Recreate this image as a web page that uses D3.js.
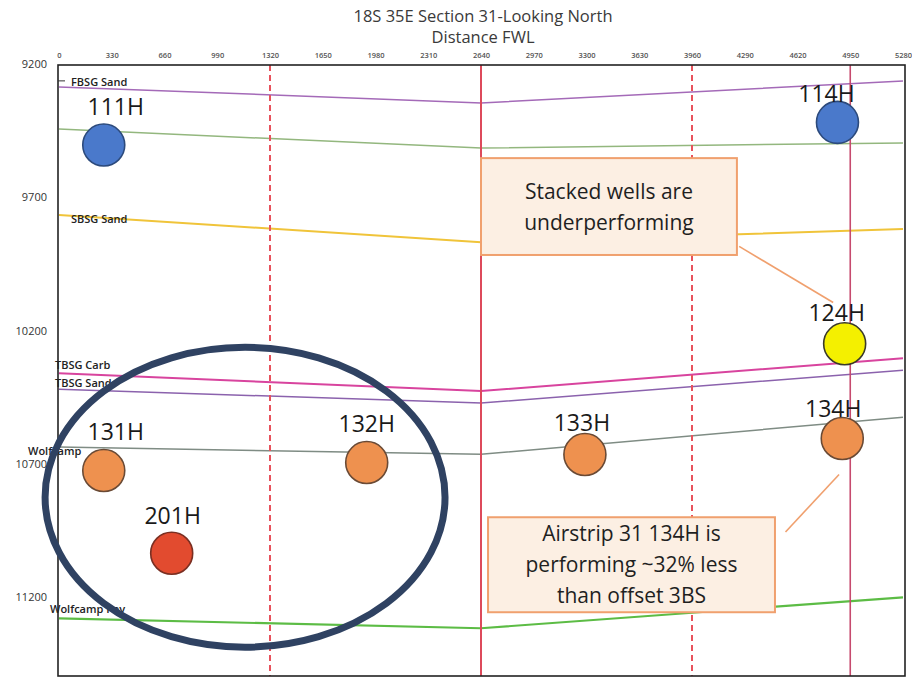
<!DOCTYPE html>
<html>
<head>
<meta charset="utf-8">
<script src="https://cdn.jsdelivr.net/npm/d3@7"></script>
<style>
  html, body { margin: 0; padding: 0; background: #fff; }
  svg { display: block; }
</style>
</head>
<body>
<svg id="chart" width="912" height="683"></svg>
<script>
// ---------------- data ----------------
const titleLines = ["18S 35E Section 31-Looking North", "Distance FWL"];
const xTicks = [0, 330, 660, 990, 1320, 1650, 1980, 2310, 2640, 2970, 3300, 3630, 3960, 4290, 4620, 4950, 5280];
const yTicks = [9200, 9700, 10200, 10700, 11200];

// formation tops: depth at distance stations
const stations = [0, 2640, 5280];
const formationNames = ["FBSG Sand", "", "SBSG Sand", "TBSG Carb", "TBSG Sand", "Wolfcamp", "Wolfcamp Pay"];
const formationDepths = [
  [9282, 9342, 9260],
  [9440, 9511, 9492],
  [9762, 9864, 9815],
  [10355, 10422, 10299],
  [10415, 10467, 10344],
  [10632, 10659, 10520],
  [11274, 11311, 11195]
];

// section / half-section lines
const vLineX = [1320, 2640, 3960, 4950];
const vLineDashed = [true, false, true, false];

// wells
const wellNames = ["111H", "114H", "124H", "131H", "132H", "133H", "134H", "201H"];
const wellX = [280, 4870, 4915, 280, 1925, 3290, 4900, 705];
const wellDepth = [9500, 9415, 10245, 10720, 10690, 10660, 10600, 11030];
const wellGroup = ["FBSG", "FBSG", "SBSG", "TBSG", "TBSG", "TBSG", "TBSG", "WC"];

// annotations (in data units)
const ellipseCenter = [1164, 10820];
const ellipseRadii = [1251, 562];
const callouts = [
  { lines: ["Stacked wells are", "underperforming"], x0: 2640, x1: 4241, d0: 9549, d1: 9912, from: [4255, 9880], to: [4843, 10090] },
  { lines: ["Airstrip 31 134H is", "performing ~32% less", "than offset 3BS"], x0: 2684, x1: 4479, d0: 10895, d1: 11251, from: [4545, 10950], to: [4880, 10735] }
];

// ---------------- styles / layout ----------------
const formationColors = ["#a46ab8", "#93b77e", "#f0c43a", "#d8449e", "#8b62ad", "#7f8c84", "#5cbc45"];
const formationWidths = [1.5, 1.5, 2, 2, 1.5, 1.5, 2.2];
const formationLabelPos = [[71, -5], null, [71, 4], [55, -8], [55, -6], [28, 4], [50, -9]];
const groupFill = { FBSG: "#4a79cb", SBSG: "#f4f000", TBSG: "#ee914f", WC: "#e24b2f" };
const groupStroke = { FBSG: "#2c4a7c", SBSG: "#3a3a2a", TBSG: "#6a4a35", WC: "#7a2f22" };
const labelNudge = [[12, -38], [-11, -29], [-8, -31], [12, -39], [0, -39], [-3, -32], [-9, -30], [1, -38]];

const svg = d3.select("#chart");
const pLeft = 58, pRight = 905, pTop = 65, pBottom = 676;

const x = d3.scaleLinear().domain([0, 5280]).range([pLeft + 1, pRight - 2]);
const y = d3.scaleLinear().domain([9200, 11490]).range([pTop, pBottom]);

const font = "'Open Sans', 'Liberation Sans', sans-serif";

// title
svg.selectAll("text.title").data(titleLines).join("text")
  .attr("class", "title")
  .attr("x", 483).attr("y", (d, i) => 22 + i * 21)
  .attr("text-anchor", "middle")
  .attr("font-family", font).attr("font-size", 16.5).attr("fill", "#3a3a3a")
  .text(d => d);

// top axis
const gx = svg.append("g").attr("transform", `translate(0,${pTop})`)
  .call(d3.axisTop(x).tickValues(xTicks).tickSize(0).tickPadding(7).tickFormat(d3.format("d")));
gx.select(".domain").remove();
gx.selectAll("text").attr("font-family", font).attr("font-size", 7.5).attr("font-weight", 600).attr("fill", "#555");

// left axis
const gy = svg.append("g").attr("transform", `translate(${pLeft},0)`)
  .call(d3.axisLeft(y).tickValues(yTicks).tickSize(0).tickPadding(11).tickFormat(d3.format("d")));
gy.select(".domain").remove();
gy.selectAll("text").attr("font-family", font).attr("font-size", 11).attr("fill", "#333").attr("dy", "0.2em");

// formation lines
const line = d3.line().x(d => x(d[0])).y(d => y(d[1]));
formationDepths.forEach((depths, i) => {
  svg.append("path")
    .attr("d", line(stations.map((s, j) => [s, depths[j]])))
    .attr("fill", "none")
    .attr("stroke", formationColors[i])
    .attr("stroke-width", formationWidths[i]);
});

// vertical lines
svg.selectAll("line.v").data(vLineX).join("line")
  .attr("class", "v")
  .attr("x1", d => x(d)).attr("x2", d => x(d))
  .attr("y1", pTop).attr("y2", pBottom)
  .attr("stroke", (d, i) => vLineDashed[i] ? "#e8525c" : (i === 3 ? "#c64a6e" : "#dd4a5b"))
  .attr("stroke-width", (d, i) => vLineDashed[i] ? 2 : (i === 3 ? 1.6 : 2))
  .attr("stroke-dasharray", (d, i) => vLineDashed[i] ? "6,4" : null);

// plot border
svg.append("rect")
  .attr("x", pLeft).attr("y", pTop)
  .attr("width", pRight - pLeft).attr("height", pBottom - pTop)
  .attr("fill", "none").attr("stroke", "#222").attr("stroke-width", 1.6);

// formation labels
formationNames.forEach((name, i) => {
  if (!name) return;
  const p = formationLabelPos[i];
  const y0 = y(formationDepths[i][0]);
  svg.append("text")
    .attr("x", p[0]).attr("y", y0 + p[1])
    .attr("dy", "0.35em")
    .attr("font-family", font).attr("font-size", 11).attr("font-weight", 600)
    .attr("fill", "#222")
    .text(name);
});
svg.append("line").attr("x1", pLeft).attr("x2", pLeft + 7)
  .attr("y1", y(formationDepths[0][0]) - 6).attr("y2", y(formationDepths[0][0]) - 6)
  .attr("stroke", "#333").attr("stroke-width", 1);

// wells
const wells = wellNames.map((n, i) => ({ n, x: wellX[i], d: wellDepth[i], g: wellGroup[i], nudge: labelNudge[i] }));
svg.selectAll("circle.well").data(wells).join("circle")
  .attr("class", "well")
  .attr("cx", d => x(d.x)).attr("cy", d => y(d.d)).attr("r", 21)
  .attr("fill", d => groupFill[d.g])
  .attr("stroke", d => groupStroke[d.g]).attr("stroke-width", 1.6);
svg.selectAll("text.well").data(wells).join("text")
  .attr("class", "well")
  .attr("x", d => x(d.x) + d.nudge[0]).attr("y", d => y(d.d) + d.nudge[1])
  .attr("dy", "0.36em")
  .attr("text-anchor", "middle")
  .attr("font-family", font).attr("font-size", 23).attr("fill", "#1a1a1a")
  .text(d => d.n);

// ellipse annotation
svg.append("ellipse")
  .attr("cx", x(ellipseCenter[0])).attr("cy", y(ellipseCenter[1]))
  .attr("rx", x(ellipseRadii[0]) - x(0)).attr("ry", y(9200 + ellipseRadii[1]) - y(9200))
  .attr("fill", "none").attr("stroke", "#2f4262").attr("stroke-width", 7);

// callouts
callouts.forEach(c => {
  svg.append("line")
    .attr("x1", x(c.from[0])).attr("y1", y(c.from[1]))
    .attr("x2", x(c.to[0])).attr("y2", y(c.to[1]))
    .attr("stroke", "#f0a06e").attr("stroke-width", 1.6);
  const bx = x(c.x0), by = y(c.d0), bw = x(c.x1) - x(c.x0), bh = y(c.d1) - y(c.d0);
  svg.append("rect")
    .attr("x", bx).attr("y", by).attr("width", bw).attr("height", bh)
    .attr("fill", "#fcefe3").attr("stroke", "#f0a06e").attr("stroke-width", 2);
  const lh = 31;
  const startY = by + bh / 2 - (c.lines.length - 1) * lh / 2;
  c.lines.forEach((t, i) => {
    svg.append("text")
      .attr("x", bx + bw / 2).attr("y", startY + i * lh)
      .attr("dy", "0.36em")
      .attr("text-anchor", "middle")
      .attr("font-family", font).attr("font-size", 21).attr("fill", "#1f1f1f")
      .text(t);
  });
});
</script>
</body>
</html>
